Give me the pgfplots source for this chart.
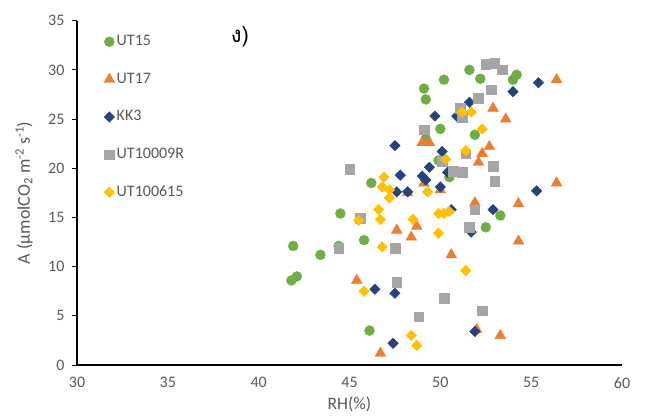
\documentclass[border=0pt]{standalone}
\usepackage{fontspec}
\setmainfont{Carlito}
\newfontfamily\thaifont[Script=Thai]{Loma}
\usepackage{pgfplots}
\pgfplotsset{compat=1.18}

\definecolor{cGreen}{HTML}{70AD47}
\definecolor{cOrange}{HTML}{ED7D31}
\definecolor{cNavy}{HTML}{264478}
\definecolor{cGray}{HTML}{A5A5A5}
\definecolor{cYellow}{HTML}{FFC000}
\definecolor{txtgray}{HTML}{595959}

\begin{document}
\begin{tikzpicture}
\path[use as bounding box] (0pt,0pt) rectangle (648pt,418pt);
\begin{axis}[
  at={(77pt,53pt)}, anchor=south west,
  scale only axis, width=545pt, height=344.3pt,
  xmin=30, xmax=60, ymin=0, ymax=35,
  axis x line=bottom, axis y line=left,
  axis line style={-, black, line width=1.2pt},
  xtick={30,35,...,60}, ytick={0,5,...,35},
  x tick style={draw=none},
  y tick style={black, line width=0.8pt},
  tick align=outside, major tick length=5pt,
  ticklabel style={font=\fontsize{16}{17}\selectfont, text=txtgray},
  xticklabel style={yshift=-4pt},
  yticklabel style={xshift=-4pt},
  /pgf/number format/assume math mode=true,
  xlabel={RH(\%)},
  xlabel style={font=\fontsize{17.5}{18}\selectfont, text=txtgray,
                at={(axis description cs:0.5,-0.114)}, anchor=center},
  ylabel={A (µmolCO\textsubscript{2} m\textsuperscript{-2} s\textsuperscript{-1})},
  ylabel style={font=\fontsize{18}{19}\selectfont, text=txtgray,
                at={(axis description cs:-0.097,0.5)}, anchor=center},
  legend image code/.code={\path (-5pt,0pt) (5pt,0pt); \draw plot coordinates {(0pt,0pt)};},
  legend style={draw=none, fill=none, inner sep=0pt, outer sep=0pt,
                at={(0.0495,0.965)}, anchor=north west,
                font=\fontsize{16}{17}\selectfont, text=txtgray,
                row sep=19.6pt,
                nodes={text height=11pt, text depth=3pt, inner sep=2pt},
                /tikz/every even column/.append style={column sep=3pt}},
  legend cell align=left,
]

% UT15
\addplot[only marks, mark=*, mark size=5pt, color=cGreen] coordinates {
 (41.8,8.6) (42.1,9.0) (41.9,12.1) (43.4,11.2) (44.4,12.1) (44.5,15.4)
 (45.8,12.7) (46.1,3.5) (46.2,18.5) (49.1,28.1) (49.2,27.0) (49.2,23.0)
 (50.0,24.0) (49.9,20.8) (50.2,29.0) (50.5,19.1) (51.6,30.0) (52.2,29.1)
 (51.9,23.4) (52.5,14.0) (53.3,15.2) (54.0,29.0) (54.2,29.5)
};
\addlegendentry{UT15}

% UT17
\addplot[only marks, mark=triangle*, mark size=6.2pt, color=cOrange] coordinates {
 (45.4,8.6) (46.7,1.2) (47.6,13.7) (48.4,13.0) (48.7,14.1) (48.2,17.5)
 (49.0,22.6) (49.4,22.6) (49.1,18.5) (50.0,17.8) (50.6,11.2) (51.9,16.5)
 (52.0,3.6) (52.1,20.6) (52.3,21.5) (52.7,22.2) (52.9,26.1) (53.3,3.0)
 (53.6,25.0) (54.3,16.4) (54.3,12.6) (56.4,29.0) (56.4,18.5)
};
\addlegendentry{UT17}

% KK3
\addplot[only marks, mark=square*, mark size=3.7pt, mark options={rotate=45}, color=cNavy] coordinates {
 (46.4,7.7) (47.5,7.3) (47.4,2.2) (47.5,22.3) (47.8,19.3) (47.6,17.6)
 (48.2,17.6) (49.0,19.2) (49.2,18.8) (49.4,20.1) (49.7,25.3) (50.0,18.1)
 (50.1,21.7) (50.4,19.6) (50.6,15.8) (50.9,25.3) (51.6,26.7) (51.7,13.5)
 (51.9,3.4) (52.9,15.8) (54.0,27.8) (55.3,17.7) (55.4,28.7)
};
\addlegendentry{KK3}

% UT10009R
\addplot[only marks, mark=square*, mark size=4.8pt, color=cGray] coordinates {
 (44.4,11.9) (45.0,19.9) (45.6,14.9) (47.5,11.9) (47.6,8.4) (48.8,4.9)
 (49.1,23.9) (50.1,20.7) (50.2,6.8) (50.7,19.7) (51.2,19.6) (51.2,25.2)
 (51.1,26.1) (51.4,21.5) (51.6,14.0) (51.9,15.8) (52.1,27.1) (52.3,5.5)
 (52.5,30.6) (52.8,28.0) (52.9,20.2) (53.0,18.7) (53.0,30.7) (53.4,30.0)
};
\addlegendentry{UT10009R}

% UT100615
\addplot[only marks, mark=square*, mark size=3.7pt, mark options={rotate=45}, color=cYellow] coordinates {
 (45.5,14.7) (45.8,7.5) (46.6,15.8) (46.7,14.8) (46.8,12.0) (46.8,18.1)
 (46.9,19.1) (47.2,17.8) (47.2,17.0) (48.4,3.0) (48.5,14.8) (48.7,2.0)
 (49.3,17.6) (49.9,13.4) (49.9,15.4) (50.2,15.4) (50.5,15.6) (50.3,20.9)
 (51.4,9.6) (51.4,21.8) (51.2,25.7) (51.7,25.7) (52.3,24.0)
};
\addlegendentry{UT100615}

% panel letter
\node[font=\thaifont\fontsize{22}{22}\selectfont, text=black]
  at (rel axis cs:0.299,0.952) {ง)};
\end{axis}
\end{tikzpicture}
\end{document}
